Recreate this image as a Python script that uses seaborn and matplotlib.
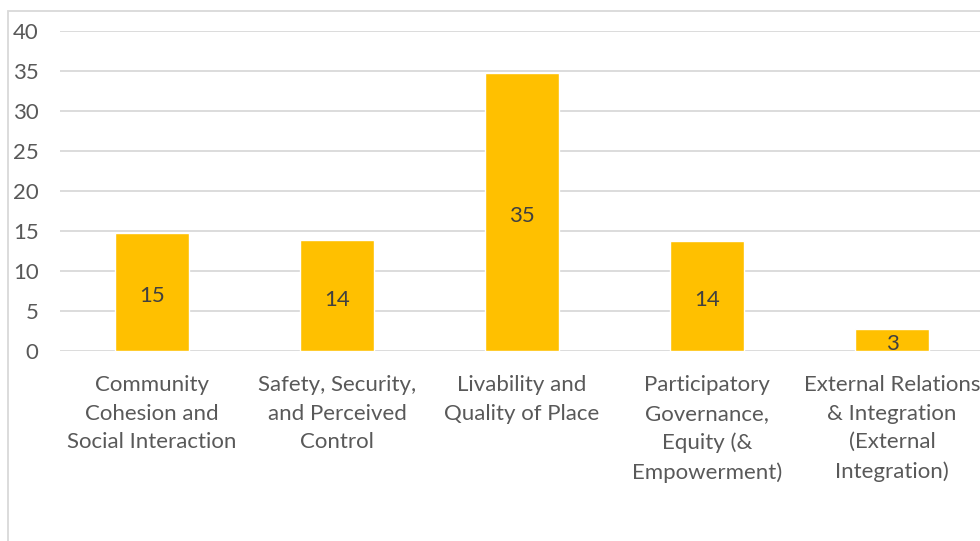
import matplotlib
matplotlib.use("Agg")
import matplotlib.pyplot as plt
from matplotlib.patches import Rectangle
import seaborn as sns
import pandas as pd

categories = [
    "Community\nCohesion and\nSocial Interaction",
    "Safety, Security,\nand Perceived\nControl",
    "Livability and\nQuality of Place",
    "Participatory\nGovernance,\nEquity (&\nEmpowerment)",
    "External Relations\n& Integration\n(External\nIntegration)",
]
values = [14.7, 13.9, 34.7, 13.7, 2.7]
y_ticks = [0, 5, 10, 15, 20, 25, 30, 35, 40]

sns.set_theme(style="white")
plt.rcParams["font.family"] = ["Lato", "DejaVu Sans"]

df = pd.DataFrame({"category": categories, "value": values})

fig = plt.figure(figsize=(9.8, 5.41), dpi=100)
ax = fig.add_axes([59.5 / 980, 190 / 541, 925 / 980, 320 / 541])

sns.barplot(data=df, x="category", y="value", color="#FFC000",
            width=0.4, saturation=1, ax=ax)

ax.set_xlim(-0.5, 4.5)
ax.set_ylim(0, 40)
ax.set_yticks(y_ticks)
ax.set_xlabel("")
ax.set_ylabel("")
ax.yaxis.grid(True, color="#d9d9d9", linewidth=1.3)
ax.set_axisbelow(True)
for s in ax.spines.values():
    s.set_visible(False)

ax.tick_params(axis="y", length=0, pad=15, labelsize=16, labelcolor="#595959")
ax.tick_params(axis="x", length=0, pad=17.5, labelsize=16, labelcolor="#595959")
for lab in ax.get_xticklabels():
    lab.set_linespacing(1.53)

labels = ax.bar_label(ax.containers[0], labels=[f"{v:.0f}" for v in values],
                      label_type="center", fontsize=16, color="#404040")
for t in labels:
    t.xyann = (0, -3)

# outer chart-area frame
fig.patches.append(Rectangle((8 / 980, -0.1), 1.2, 1.1 - 11 / 541,
                             transform=fig.transFigure, fill=False,
                             edgecolor="#d9d9d9", linewidth=1.3))

fig.savefig("out.png", dpi=100)
